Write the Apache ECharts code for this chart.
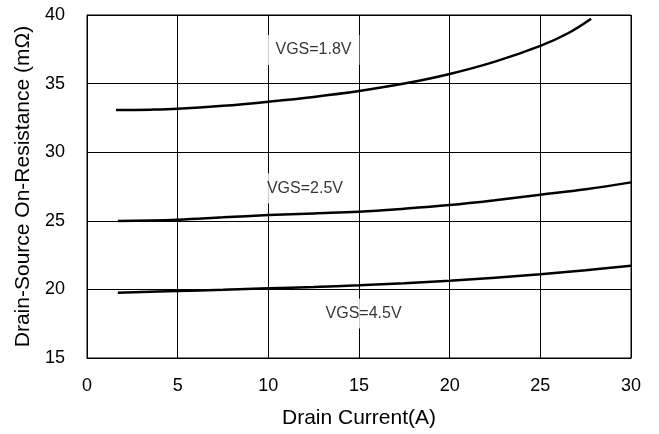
<!DOCTYPE html>
<html>
<head>
<meta charset="utf-8">
<script src="https://cdn.jsdelivr.net/npm/echarts@6/dist/echarts.min.js"></script>
<style>html,body{margin:0;padding:0;background:#fff}#c{width:659px;height:434px}</style>
</head>
<body>
<div id="c"></div>
<script>
var xTicks = [0, 5, 10, 15, 20, 25, 30];
var yTicks = [15, 20, 25, 30, 35, 40];

var vgs18X = [1.6, 3.5, 5, 7.5, 10, 12.5, 15, 17.5, 20, 22.5, 25, 26.5, 27.8];
var vgs18Y = [33.08, 33.1, 33.16, 33.38, 33.68, 34.03, 34.46, 35.0, 35.7, 36.6, 37.75, 38.65, 39.73];

var vgs25X = [1.7, 5, 7.5, 10, 12.5, 15, 17.5, 20, 22.5, 25, 27.5, 30];
var vgs25Y = [24.99, 25.08, 25.25, 25.42, 25.54, 25.66, 25.88, 26.15, 26.5, 26.9, 27.3, 27.8];

var vgs45X = [1.7, 5, 7.5, 10, 12.5, 15, 17.5, 20, 22.5, 25, 27.5, 30];
var vgs45Y = [19.76, 19.88, 19.97, 20.08, 20.18, 20.3, 20.45, 20.63, 20.85, 21.1, 21.4, 21.73];

var labelNames = ['VGS=1.8V', 'VGS=2.5V', 'VGS=4.5V'];
var labelX = [12.49, 12.02, 15.25];
var labelY = [37.45, 27.35, 18.24];

function pairs(xs, ys) { return xs.map(function (x, i) { return [x, ys[i]]; }); }

var FONT = '"Liberation Sans", Arial, sans-serif';
var lineSeries = function (xs, ys) {
  return {
    type: 'line', data: pairs(xs, ys), smooth: 0.4, symbol: 'none',
    lineStyle: { color: '#000', width: 2.5 }, silent: true, z: 3
  };
};

var chart = echarts.init(document.getElementById('c'), null, { renderer: 'canvas' });
chart.setOption({
  animation: false,
  backgroundColor: '#fff',
  grid: { left: 87, right: 28, top: 15, bottom: 76, show: true, borderColor: '#000', borderWidth: 1 },
  xAxis: {
    type: 'value', min: xTicks[0], max: xTicks[xTicks.length - 1], interval: 5,
    name: 'Drain Current(A)', nameLocation: 'middle', nameGap: 50,
    nameTextStyle: { fontFamily: FONT, fontSize: 21, color: '#000' },
    axisLine: { show: true, lineStyle: { color: '#000', width: 1 } },
    axisTick: { show: false },
    axisLabel: { margin: 19, fontFamily: FONT, fontSize: 18, color: '#000' },
    splitLine: { show: true, lineStyle: { color: '#000', width: 1 } }
  },
  yAxis: {
    type: 'value', min: yTicks[0], max: yTicks[yTicks.length - 1], interval: 5,
    name: 'Drain-Source On-Resistance (mΩ)', nameLocation: 'middle', nameGap: 51,
    nameTextStyle: { fontFamily: FONT, fontSize: 21, color: '#000' },
    axisLine: { show: true, lineStyle: { color: '#000', width: 1 } },
    axisTick: { show: false },
    axisLabel: { margin: 22, fontFamily: FONT, fontSize: 18, color: '#000' },
    splitLine: { show: true, lineStyle: { color: '#000', width: 1 } }
  },
  series: [
    lineSeries(vgs18X, vgs18Y),
    lineSeries(vgs25X, vgs25Y),
    lineSeries(vgs45X, vgs45Y),
    {
      type: 'scatter', symbolSize: 0, silent: true, z: 4,
      data: labelNames.map(function (n, i) { return { value: [labelX[i], labelY[i]], name: n }; }),
      label: {
        show: true, position: 'inside', formatter: '{b}',
        fontFamily: FONT, fontSize: 16, color: '#000',
        backgroundColor: '#fff', padding: [7, 8]
      }
    }
  ]
});
</script>
</body>
</html>
